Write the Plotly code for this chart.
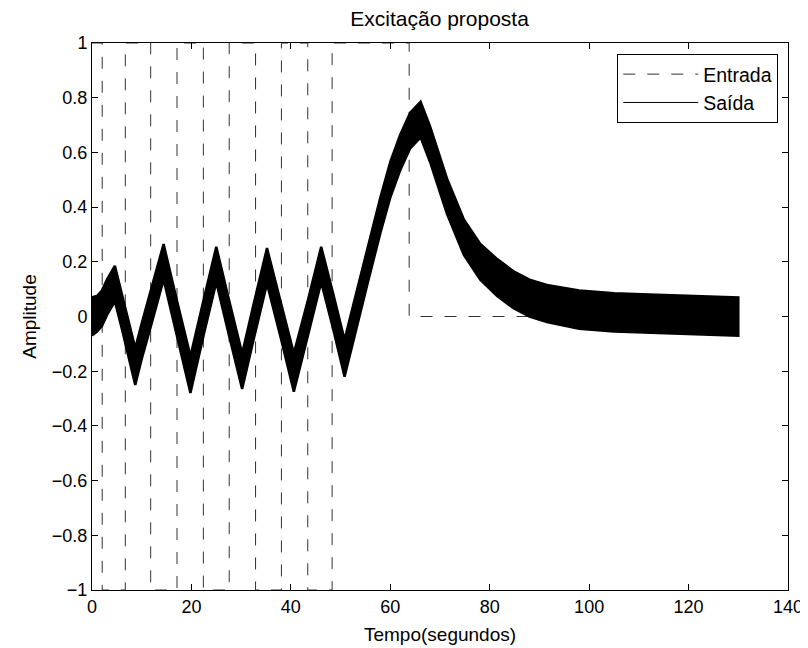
import plotly.graph_objects as go

# ---- Input (square-wave excitation) ----
in_t = [0, 2.05, 6.7, 11.8, 17.1, 22.4, 27.6, 32.9, 38.1, 43.4, 48.3, 63.8, 130]
in_v = [1, -1, 1, -1, 1, -1, 1, -1, 1, -1, 1, 0, 0]

# ---- Output (noisy response), envelope ----
out_t = [0, 1, 2, 3, 4.6, 6, 7.5, 8.7, 10, 12, 14.4, 17, 19.8, 22.5, 25, 27.5, 30.2,
         32.5, 35.2, 38, 40.6, 43.5, 46.1, 48.5, 50.8, 53, 55.5, 58, 60, 62, 64, 66.1,
         68, 71.4, 74.8, 78.1, 81.5, 84.8, 88, 91.5, 98, 105, 112, 120, 130]
out_mid = [0, 0.01, 0.03, 0.07, 0.12, 0.02, -0.09, -0.18, -0.09, 0.04, 0.20, 0.0, -0.21,
           0.0, 0.19, 0.0, -0.20, -0.02, 0.185, -0.015, -0.20, 0.0, 0.19, 0.02, -0.15,
           0.01, 0.19, 0.37, 0.50, 0.60, 0.68, 0.72, 0.63, 0.44, 0.29, 0.20, 0.145, 0.10,
           0.07, 0.05, 0.025, 0.015, 0.01, 0.005, 0.0]
out_up = [0.07, 0.075, 0.095, 0.135, 0.185, 0.085, -0.025, -0.115, -0.025, 0.105, 0.265,
          0.065, -0.145, 0.065, 0.255, 0.065, -0.135, 0.045, 0.25, 0.05, -0.135, 0.065,
          0.255, 0.085, -0.085, 0.075, 0.255, 0.435, 0.565, 0.665, 0.745, 0.785, 0.695,
          0.505, 0.355, 0.265, 0.21, 0.165, 0.135, 0.115, 0.095, 0.085, 0.08, 0.075, 0.07]
out_lo = [-0.07, -0.055, -0.035, 0.005, 0.055, -0.045, -0.155, -0.25, -0.155, -0.025,
          0.135, -0.065, -0.28, -0.065, 0.125, -0.065, -0.265, -0.085, 0.12, -0.08,
          -0.275, -0.065, 0.125, -0.045, -0.22, -0.055, 0.125, 0.305, 0.435, 0.535, 0.615,
          0.655, 0.565, 0.375, 0.225, 0.135, 0.075, 0.03, 0.0, -0.02, -0.045, -0.055,
          -0.06, -0.065, -0.07]

x_ticks = [0, 20, 40, 60, 80, 100, 120, 140]
y_ticks = [-1, -0.8, -0.6, -0.4, -0.2, 0, 0.2, 0.4, 0.6, 0.8, 1]
y_tick_text = ["\u22121", "\u22120.8", "\u22120.6", "\u22120.4", "\u22120.2", "0",
               "0.2", "0.4", "0.6", "0.8", "1"]

FONT = "Liberation Sans, Arial, Helvetica, sans-serif"

fig = go.Figure()

fig.add_trace(go.Scatter(
    x=in_t, y=in_v, mode="lines", line_shape="hv", name="Entrada",
    line=dict(color="#333333", width=1, dash="12px,12px"),
))

# noisy band
fig.add_trace(go.Scatter(
    x=out_t + out_t[::-1], y=out_up + out_lo[::-1], mode="lines", fill="toself",
    fillcolor="black", line=dict(color="black", width=2.5), showlegend=False,
    hoverinfo="skip",
))
fig.add_trace(go.Scatter(
    x=out_t, y=out_mid, mode="lines", name="Saída",
    line=dict(color="black", width=1),
))

axis_common = dict(
    showline=True, linecolor="black", linewidth=1, mirror="ticks",
    ticks="inside", ticklen=6, tickcolor="black", showgrid=False, zeroline=False,
    tickfont=dict(family=FONT, size=18, color="black"),
)

# page body adds an 8px offset, so the figure is 800x640
fig.update_layout(
    width=800, height=640,
    margin=dict(l=84, r=20, t=35, b=58),
    paper_bgcolor="white", plot_bgcolor="white",
    font=dict(family=FONT, size=18, color="black"),
    title=dict(text="Excitação proposta", x=0.5395, xanchor="center", xref="container",
               y=0.984, yanchor="middle", yref="container",
               font=dict(family=FONT, size=21, color="black")),
    xaxis=dict(range=[0, 140], tickvals=x_ticks, ticktext=[str(v) for v in x_ticks],
               title=dict(text="Tempo(segundos)", standoff=12,
                          font=dict(family=FONT, size=19)),
               automargin=False, **axis_common),
    yaxis=dict(range=[-1, 1], tickvals=y_ticks, ticktext=y_tick_text,
               title=dict(text="Amplitude", standoff=10,
                          font=dict(family=FONT, size=19)),
               automargin=False, **axis_common),
    legend=dict(x=0.986, y=0.98, xanchor="right", yanchor="top",
                bgcolor="white", bordercolor="black", borderwidth=1,
                font=dict(family=FONT, size=19.5, color="black"),
                itemwidth=75, tracegroupgap=0),
    showlegend=True,
)

fig.write_html("out.html")
